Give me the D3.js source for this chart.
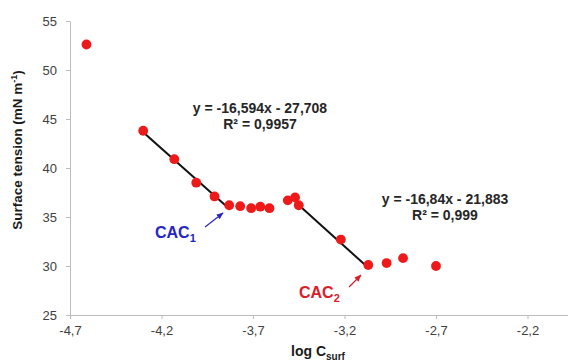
<!DOCTYPE html>
<html>
<head>
<meta charset="utf-8">
<script src="https://cdn.jsdelivr.net/npm/d3@7"></script>
<style>
  html, body { margin: 0; padding: 0; background: #fff; }
  svg { display: block; font-family: "Liberation Sans", Arial, sans-serif; }
</style>
</head>
<body>
<svg id="chart" width="568" height="363"></svg>
<script>
// measured points (log C_surf, surface tension)
const logC = [-4.61, -4.30, -4.13, -4.01, -3.91, -3.83, -3.77, -3.71, -3.66, -3.61,
              -3.51, -3.47, -3.45, -3.22, -3.07, -2.97, -2.88, -2.70];
const tension = [52.6, 43.8, 40.9, 38.5, 37.1, 36.2, 36.1, 35.9, 36.05, 35.9,
                 36.7, 37.0, 36.2, 32.7, 30.1, 30.3, 30.8, 30.0];

// linear fits: slope, intercept, x-range
const fitSlopes = [-16.594, -16.84];
const fitIntercepts = [-27.708, -21.883];
const fitFrom = [-4.30, -3.47];
const fitTo = [-3.83, -3.07];
const fitLabels = [["y = -16,594x - 27,708", "R\u00b2 = 0,9957"],
                   ["y = -16,84x - 21,883", "R\u00b2 = 0,999"]];

const xTicks = [-4.7, -4.2, -3.7, -3.2, -2.7, -2.2];
const yTicks = [25, 30, 35, 40, 45, 50, 55];

const svg = d3.select("#chart");
const x = d3.scaleLinear().domain([-4.7, -1.7]).range([70, 619]);
const y = d3.scaleLinear().domain([25, 55]).range([315, 21]);
const comma = v => d3.format(".1f")(v).replace(".", ",").replace("\u2212", "-");

// axes
const xAxis = svg.append("g")
  .attr("transform", "translate(0,315)")
  .call(d3.axisBottom(x).tickValues(xTicks).tickSize(4).tickSizeOuter(0).tickFormat(comma));
const yAxis = svg.append("g")
  .attr("transform", "translate(70,0)")
  .call(d3.axisLeft(y).tickValues(yTicks).tickSize(4).tickSizeOuter(0).tickPadding(9));
svg.selectAll(".domain, .tick line").attr("stroke", "#bdbdbd");
svg.selectAll(".tick text")
  .attr("fill", "#404040")
  .style("font-size", "13px")
  .style("font-family", "'Liberation Sans', Arial, sans-serif");
xAxis.selectAll(".tick text").attr("dy", "1.0em");

// axis titles
const yl = svg.append("text")
  .attr("transform", "translate(22,150) rotate(-90)")
  .attr("text-anchor", "middle")
  .attr("fill", "#1a1a1a")
  .style("font-size", "13.5px").style("font-weight", "bold");
yl.append("tspan").text("Surface tension  (mN m");
yl.append("tspan").attr("dy", -5).style("font-size", "9px").text("-1");
yl.append("tspan").attr("dy", 5).text(")");

const xl = svg.append("text")
  .attr("x", 318).attr("y", 356)
  .attr("text-anchor", "middle")
  .attr("fill", "#1a1a1a")
  .style("font-size", "14px").style("font-weight", "bold");
xl.append("tspan").text("log C");
xl.append("tspan").attr("dy", 4).style("font-size", "10px").text("surf");

// fit lines
fitSlopes.forEach((m, i) => {
  const x0 = fitFrom[i], x1 = fitTo[i];
  svg.append("line")
    .attr("x1", x(x0)).attr("y1", y(m * x0 + fitIntercepts[i]))
    .attr("x2", x(x1)).attr("y2", y(m * x1 + fitIntercepts[i]))
    .attr("stroke", "#111").attr("stroke-width", 2);
});

// points
svg.append("g").selectAll("circle")
  .data(logC.map((v, i) => [v, tension[i]]))
  .join("circle")
  .attr("cx", d => x(d[0])).attr("cy", d => y(d[1]))
  .attr("r", 4.9)
  .attr("fill", "#ee1a1a");

// equation labels
const eqPos = [[260, 113], [445, 204]];
fitLabels.forEach((lines, i) => {
  lines.forEach((t, j) => {
    svg.append("text")
      .attr("x", eqPos[i][0]).attr("y", eqPos[i][1] + j * 15.5)
      .attr("text-anchor", "middle")
      .attr("fill", "#262626")
      .style("font-size", "14px").style("font-weight", "bold")
      .text(t);
  });
});

// CAC annotations
const defs = svg.append("defs");
const cacs = [
  { name: "1", color: "#2626c8", tx: 155, ty: 238, from: [-3.962, 33.98], to: [-3.864, 35.41] },
  { name: "2", color: "#d9202a", tx: 299, ty: 298, from: [-3.175, 27.86], to: [-3.110, 29.08] }
];
cacs.forEach((c, i) => {
  defs.append("marker")
    .attr("id", "arr" + i)
    .attr("viewBox", "0 0 10 10").attr("refX", 9).attr("refY", 5)
    .attr("markerWidth", 6).attr("markerHeight", 6).attr("orient", "auto")
    .append("path").attr("d", "M0,1 L10,5 L0,9 Z").attr("fill", c.color);
  svg.append("line")
    .attr("x1", x(c.from[0])).attr("y1", y(c.from[1]))
    .attr("x2", x(c.to[0])).attr("y2", y(c.to[1]))
    .attr("stroke", c.color).attr("stroke-width", 1.2)
    .attr("marker-end", `url(#arr${i})`);
  const t = svg.append("text")
    .attr("x", c.tx).attr("y", c.ty)
    .attr("fill", c.color)
    .style("font-size", "16px").style("font-weight", "bold");
  t.append("tspan").text("CAC");
  t.append("tspan").attr("dy", 4).style("font-size", "11px").text(c.name);
});
</script>
</body>
</html>
